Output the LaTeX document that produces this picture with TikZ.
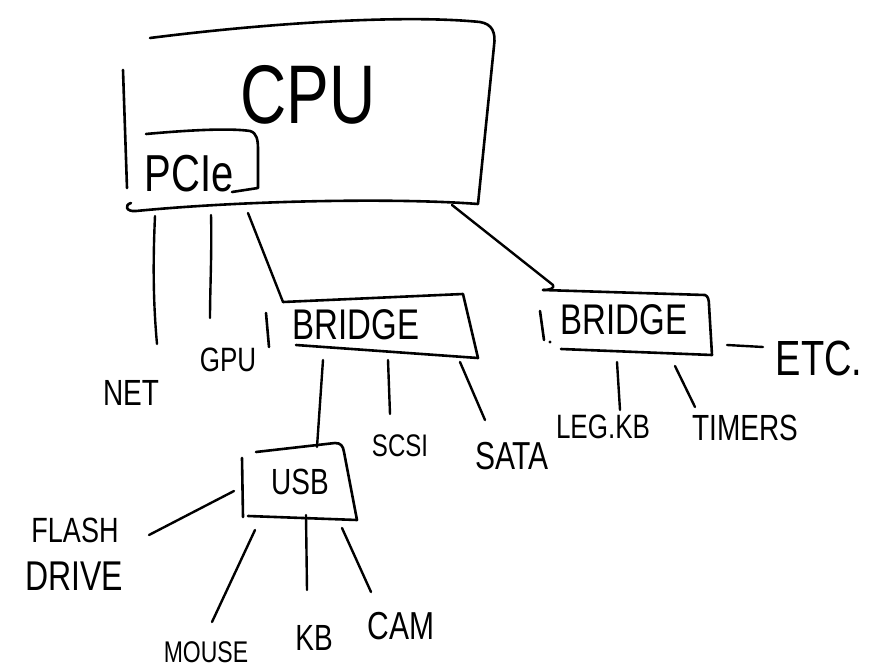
\documentclass[tikz,border=0pt]{standalone}
\usepackage{fontspec}
\setmainfont{Liberation Sans}
% upright capitals drawn a little taller than the font gives them
\newcommand{\tallcaps}[1]{\scalebox{1}[1.3]{#1}}
\begin{document}
\begin{tikzpicture}[x=1pt, y=-1pt, line width=2.6pt, line cap=round, line join=round,
  lbl/.style={inner sep=0pt, font=\fontsize{#1}{#1}\selectfont},
  lbl/.default=28,
  wire/.style={line width=2.4pt}]
\useasboundingbox[fill=white] (0,0) rectangle (876,669);

% ---------- CPU with its PCIe root ----------
\draw (150,38) .. controls (260,24) and (400,14) .. (480,22)
      .. controls (492,24) and (496,32) .. (494,46) -- (478,204)
      .. controls (400,198) and (250,200) .. (136,211)
      .. controls (126,212) and (124,205) .. (131,203);
\draw (123,70) -- (127,188);
\node[lbl=64] (cpu) at (308,95) {\tallcaps{CPU}};

\draw (146,134) .. controls (190,130) and (230,128) .. (250,131)
      .. controls (257,133) and (258,140) .. (258,150) -- (258,188) -- (232,192);
\node[lbl=40] (pcie) at (189,174) {\tallcaps{PCIe}};

\coordinate (cpu-net) at (155,216);
\coordinate (cpu-gpu) at (211,215);
\coordinate (cpu-br1) at (248,213);
\coordinate (cpu-br2) at (452,205);

% ---------- first bridge ----------
\coordinate (br1-tl) at (283,302);
\draw (br1-tl) -- (463,294) -- (478,358) -- (296,345);
\draw (266,313) -- (269,347);
\node[lbl=33] (bridge1) at (356,325) {\tallcaps{BRIDGE}};

\coordinate (br1-usb) at (323,360);
\coordinate (br1-scsi) at (388,360);
\coordinate (br1-sata) at (460,362);

% ---------- second bridge ----------
\coordinate (br2-tl) at (543,290);
\draw (br2-tl) -- (705,295) .. controls (708,296) and (709,300) .. (709,305) -- (712,355) -- (561,349);
\draw (540,311) -- (544,340);
\fill (550,342) circle (1.6pt);
\node[lbl=33] (bridge2) at (624,320) {\tallcaps{BRIDGE}};

\coordinate (br2-legkb) at (617,362);
\coordinate (br2-timers) at (675,366);
\coordinate (br2-etc) at (727,345);

% ---------- USB hub ----------
\coordinate (usb-top) at (317,447);
\draw (256,452) -- (335,443) .. controls (341,443) and (343,446) .. (344,452) -- (357,520) -- (248,516);
\draw (242,458) -- (243,517);
\node[lbl=28] (usb) at (300,482) {\tallcaps{USB}};

\coordinate (usb-flash) at (234,491);
\coordinate (usb-mouse) at (255,530);
\coordinate (usb-kb) at (306,515);
\coordinate (usb-cam) at (342,528);

% ---------- device labels ----------
\node[lbl=28] (net) at (131,393) {\tallcaps{NET}};
\node[lbl=26] (gpu) at (228,360) {\tallcaps{GPU}};
\node[lbl=24] (scsi) at (400,446) {\tallcaps{SCSI}};
\node[lbl=30] (sata) at (512,456) {\tallcaps{SATA}};
\node[lbl=27] (flash) at (75,530) {\tallcaps{FLASH}};
\node[lbl=32] (drive) at (74,576) {\tallcaps{DRIVE}};
\node[lbl=23] (mouse) at (206,652) {\tallcaps{MOUSE}};
\node[lbl=28] (kb) at (314,638) {\tallcaps{KB}};
\node[lbl=30] (cam) at (401,626) {\tallcaps{CAM}};
\node[lbl=26] (legkb) at (603,427) {\tallcaps{LEG.KB}};
\node[lbl=28] (timers) at (745,428) {\tallcaps{TIMERS}};
\node[lbl=38] (etc) at (819,358) {\tallcaps{ETC.}};

% ---------- links ----------
\coordinate (net-end) at (157,344);
\coordinate (gpu-end) at (210,318);
\coordinate (scsi-end) at (390,414);
\coordinate (sata-end) at (485,420);
\coordinate (flash-end) at (149,535);
\coordinate (mouse-end) at (212,622);
\coordinate (kb-end) at (307,590);
\coordinate (cam-end) at (371,592);
\coordinate (legkb-end) at (620,410);
\coordinate (timers-end) at (695,407);
\coordinate (etc-end) at (763,347);

\draw[wire] (cpu-net) .. controls (153,260) and (153,300) .. (net-end);
\draw[wire] (cpu-gpu) .. controls (212,250) and (210,290) .. (gpu-end);
\draw[wire] (cpu-br1) -- (br1-tl);
\draw[wire] (cpu-br2) -- (553,285) .. controls (555,288) and (550,290) .. (br2-tl);
\draw[wire] (br1-usb) -- (usb-top);
\draw[wire] (br1-scsi) -- (scsi-end);
\draw[wire] (br1-sata) -- (sata-end);
\draw[wire] (usb-flash) -- (flash-end);
\draw[wire] (usb-mouse) -- (mouse-end);
\draw[wire] (usb-kb) -- (kb-end);
\draw[wire] (usb-cam) -- (cam-end);
\draw[wire] (br2-legkb) -- (legkb-end);
\draw[wire] (br2-timers) -- (timers-end);
\draw[wire] (br2-etc) -- (etc-end);
\end{tikzpicture}
\end{document}
